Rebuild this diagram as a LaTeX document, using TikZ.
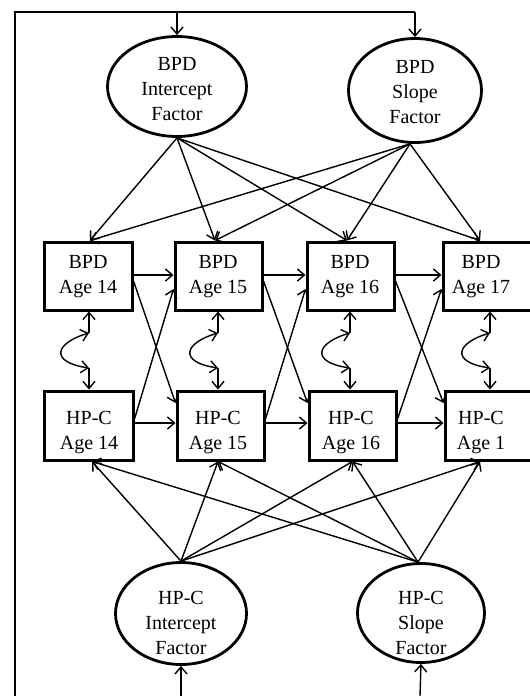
\documentclass[tikz,border=0pt]{standalone}
\usepackage{fontspec}
\setmainfont{Liberation Serif}
\usetikzlibrary{arrows.meta,shapes.geometric}
\begin{document}
\begin{tikzpicture}[x=1pt,y=-1pt,
  bx/.style={draw, line width=3pt, inner sep=0pt, minimum height=68pt},
  el/.style={draw, ellipse, line width=2.8pt, inner sep=0pt},
  tx/.style={align=center, font=\fontsize{20}{25}\selectfont, inner sep=0pt},
  arr/.style={line width=1.4pt, -{Straight Barb[length=7pt,width=12pt]}},
  dbl/.style={line width=1.4pt, {Straight Barb[length=7pt,width=12pt]}-{Straight Barb[length=7pt,width=12pt]}},
  ln/.style={line width=1.6pt}]
\clip (0,0) rectangle (530,696);
\fill[white] (0,0) rectangle (530,696);

% latent factors
\node[el, minimum width=139pt, minimum height=100pt] (bi) at (177,86.5) {};
\node[tx] (bit) at (177,89) {BPD\\Intercept\\Factor};
\node[el, minimum width=133pt, minimum height=104pt] (bs) at (415,90.5) {};
\node[tx] (bst) at (415,92) {BPD\\Slope\\Factor};
\node[el, minimum width=131pt, minimum height=102pt] (hi) at (181,613.5) {};
\node[tx] (hit) at (181,623) {HP-C\\Intercept\\Factor};
\node[el, minimum width=127pt, minimum height=99pt] (hs) at (421,613) {};
\node[tx] (hst) at (421,623) {HP-C\\Slope\\Factor};

% observed boxes
\node[bx, minimum width=88pt] (b1) at (88,276) {};
\node[bx, minimum width=87pt] (b2) at (218.5,276) {};
\node[bx, minimum width=87pt] (b3) at (350.5,276) {};
\node[bx, minimum width=98pt] (b4) at (492,276) {};
\node[bx, minimum width=89pt, minimum height=69pt] (h1) at (88.5,425.5) {};
\node[bx, minimum width=87pt, minimum height=69pt] (h2) at (220.5,425.5) {};
\node[bx, minimum width=87pt, minimum height=69pt] (h3) at (352.5,425.5) {};
\node[bx, minimum width=98pt, minimum height=69pt] (h4) at (494,425.5) {};

\node[tx] (b1t) at (88,277) {BPD\\Age 14};
\node[tx] (b2t) at (218,277) {BPD\\Age 15};
\node[tx] (b3t) at (350,277) {BPD\\Age 16};
\node[tx] (b4t) at (481,277) {BPD\\Age 17};
\node[tx] (h1t) at (89,433) {HP-C\\Age 14};
\node[tx] (h2t) at (218,433) {HP-C\\Age 15};
\node[tx] (h3t) at (351,433) {HP-C\\Age 16};
\node[tx] (h4t) at (481,433) {HP-C\\Age 1};

% outer loop
\coordinate (lb) at (15,696);
\coordinate (lt) at (15,12);
\coordinate (ti) at (177,12);
\coordinate (ts) at (415,12);
\coordinate (bhi) at (181,696);
\coordinate (bhs) at (420,696);
\draw[ln] (lb) -- (lt) -- (ts);
\draw[arr] (ti) -- (bi.north);
\draw[arr] (ts) -- (bs.north);
\draw[arr] (bhi) -- (hi.south);
\draw[arr] (bhs) -- (hs.south);

% BPD factor loadings
\foreach \b/\s in {b1/2pt, b2/-3.5pt, b3/-3.5pt, b4/-12pt}{
  \draw[arr] (bi.south) -- ([xshift=\s]\b.north);
  \draw[arr] ([xshift=-5pt]bs.south) -- ([xshift=\s]\b.north);
}
% HP-C factor loadings
\foreach \h/\s in {h1/3.5pt, h2/-2.5pt, h3/0pt, h4/-14pt}{
  \draw[arr] (hi.north) -- ([xshift=\s]\h.south);
  \draw[arr] ([xshift=-3pt]hs.north) -- ([xshift=\s]\h.south);
}

% autoregressive and cross-lagged paths
\foreach \a/\c in {1/2, 2/3, 3/4}{
  \draw[arr] ([yshift=1pt]b\a.east) -- ([yshift=1pt]b\c.west);
  \draw[arr] ([yshift=2.5pt]h\a.east) -- ([yshift=2.5pt]h\c.west);
  \draw[arr] ([yshift=-5pt]b\a.east) -- ([yshift=22.5pt]h\c.west);
  \draw[arr] ([yshift=6.5pt]h\a.east) -- ([yshift=-13pt]b\c.west);
}

% residuals and residual covariances
\foreach \i/\x in {1/89, 2/218, 3/350, 4/490}{
  \coordinate (cu\i) at (\x,333);
  \coordinate (cd\i) at (\x,368);
  \draw[arr] (cu\i) -- (cu\i |- b\i.south);
  \draw[arr] (cd\i) -- (cd\i |- h\i.north);
  \draw[dbl] (cu\i) .. controls +(-34,10) and +(-40,-6) .. (cd\i);
}
\end{tikzpicture}
\end{document}
